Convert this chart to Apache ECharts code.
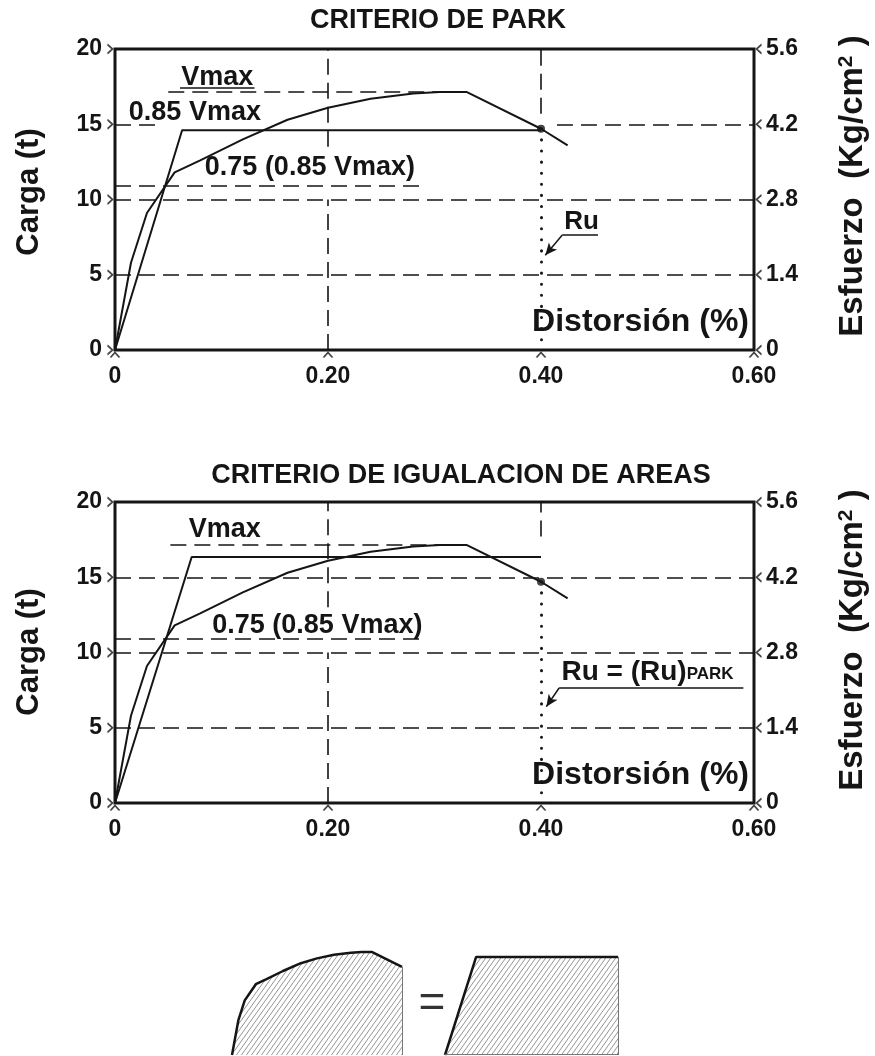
<!DOCTYPE html>
<html>
<head>
<meta charset="utf-8">
<script src="https://cdn.jsdelivr.net/npm/echarts@6/dist/echarts.min.js"></script>
<style>
html, body { margin: 0; padding: 0; background: #fff; }
#main { width: 875px; height: 1056px; }
</style>
</head>
<body>
<div id="main"></div>
<script>
// curva carga - distorsion
var strain = [0, 0.015, 0.03, 0.056, 0.08, 0.12, 0.162, 0.20, 0.24, 0.28, 0.305, 0.33, 0.40, 0.425];
var load   = [0, 5.8, 9.1, 11.8, 12.6, 14.0, 15.3, 16.1, 16.7, 17.05, 17.15, 17.15, 14.7, 13.6];

// idealizaciones bilineales
var parkStrain  = [0, 0.063, 0.40];
var parkLoad    = [0, 14.6, 14.6];
var areasStrain = [0, 0.072, 0.40];
var areasLoad   = [0, 16.35, 16.35];

var vmax = 17.15;
var reducedLoad = 10.9;   // 0.75 (0.85 Vmax)
var ruStrain = 0.40;
var ruLoad = 14.7;

var strainTicks = [0, 0.20, 0.40, 0.60];
var loadTicks   = [0, 5, 10, 15, 20];
var stressTicks = [0, 1.4, 2.8, 4.2, 5.6];

var FONT = "'Liberation Sans', Arial, sans-serif";
var INK = '#151515';
var TICK_SIZE = 23;
var NOTE_SIZE = 27;

function pairs(xs, ys) {
    var out = [];
    for (var i = 0; i < xs.length; i++) out.push([xs[i], ys[i]]);
    return out;
}
function seg(x1, y1, x2, y2) {
    return [{ coord: [x1, y1] }, { coord: [x2, y2] }];
}
function plainSeg(x1, y1, x2, y2) {
    return [{ coord: [x1, y1], symbol: 'none' }, { coord: [x2, y2], symbol: 'none' }];
}
function note(x, y, text, size) {
    return { coord: [x, y], value: 0, label: { formatter: text, fontSize: size || NOTE_SIZE } };
}

// rayado para el esquema de areas
var hatch = document.createElement('canvas');
hatch.width = 5; hatch.height = 7;
var hc = hatch.getContext('2d');
hc.strokeStyle = '#7a7a7a';
hc.lineWidth = 0.8;
hc.beginPath();
hc.moveTo(-5, 7); hc.lineTo(0, 0);
hc.moveTo(0, 7); hc.lineTo(5, 0);
hc.moveTo(5, 7); hc.lineTo(10, 0);
hc.stroke();

var dashed = { color: INK, width: 1.6, type: [16, 8] };
var dotted = { color: INK, width: 3, type: [0.1, 11], cap: 'round' };

function gridsFor(top) {
    return { left: 115, right: 121, top: top, height: 301, show: true, borderColor: INK, borderWidth: 3 };
}
function xAxisFor(gi) {
    return {
        type: 'value', gridIndex: gi, min: 0, max: 0.6, interval: 0.2,
        axisLine: { show: false }, axisTick: { show: false }, splitLine: { show: false },
        axisLabel: {
            margin: 15, fontSize: TICK_SIZE, fontWeight: 'bold', fontFamily: FONT, color: INK,
            formatter: function (v) { return v === 0 ? '0' : v.toFixed(2); }
        }
    };
}
function loadAxisFor(gi) {
    return {
        type: 'value', gridIndex: gi, min: 0, max: 20, interval: 5, position: 'left',
        axisLine: { show: false }, axisTick: { show: false }, splitLine: { show: false },
        axisLabel: { margin: 13, fontSize: TICK_SIZE, fontWeight: 'bold', fontFamily: FONT, color: INK }
    };
}
function stressAxisFor(gi) {
    return {
        type: 'value', gridIndex: gi, min: 0, max: 5.6, interval: 1.4, position: 'right',
        axisLine: { show: false }, axisTick: { show: false }, splitLine: { show: false },
        axisLabel: {
            margin: 12, fontSize: TICK_SIZE, fontWeight: 'bold', fontFamily: FONT, color: INK,
            formatter: function (v) { return v === 0 ? '0' : v.toFixed(1); }
        }
    };
}

// pequenas marcas en angulo sobre los ejes
function tickMarks(xi, yi, yri) {
    var chevL = 'path://M0,0 L6,5 L0,10';
    var chevU = 'path://M0,6 L5,0 L10,6';
    var chevR = 'path://M6,0 L0,5 L6,10';
    var base = { type: 'scatter', clip: false, silent: true, z: 5,
        itemStyle: { color: 'none', borderColor: INK, borderWidth: 1.5 } };
    return [
        Object.assign({}, base, { xAxisIndex: xi, yAxisIndex: yi, symbol: chevL, symbolSize: [5, 9], symbolOffset: [-5, 0],
            data: loadTicks.map(function (v) { return [0, v]; }) }),
        Object.assign({}, base, { xAxisIndex: xi, yAxisIndex: yi, symbol: chevU, symbolSize: [9, 5], symbolOffset: [0, 5],
            data: strainTicks.map(function (v) { return [v, 0]; }) }),
        Object.assign({}, base, { xAxisIndex: xi, yAxisIndex: yri, symbol: chevR, symbolSize: [5, 9], symbolOffset: [5, 0],
            data: stressTicks.map(function (v) { return [0.6, v]; }) })
    ];
}

function panelSeries(xi, yi, yri, bilStrain, bilLoad, guides, notes, leader) {
    var list = [
        { type: 'line', xAxisIndex: xi, yAxisIndex: yi, data: pairs(strain, load), symbol: 'none', z: 4,
          lineStyle: { color: INK, width: 2 } },
        { type: 'line', xAxisIndex: xi, yAxisIndex: yi, data: pairs(bilStrain, bilLoad), symbol: 'none', z: 4,
          lineStyle: { color: INK, width: 2 } },
        { type: 'scatter', xAxisIndex: xi, yAxisIndex: yi, data: [[ruStrain, ruLoad]], symbolSize: 8, z: 6,
          itemStyle: { color: INK } },
        // lineas de referencia
        { type: 'line', xAxisIndex: xi, yAxisIndex: yi, data: [], silent: true,
          markLine: { silent: true, symbol: 'none', label: { show: false }, lineStyle: dashed, animation: false,
              data: guides } },
        { type: 'line', xAxisIndex: xi, yAxisIndex: yi, data: [], silent: true,
          markLine: { silent: true, symbol: 'none', label: { show: false }, lineStyle: dotted, animation: false,
              data: [seg(ruStrain, ruLoad, ruStrain, 0)] } },
        { type: 'line', xAxisIndex: xi, yAxisIndex: yi, data: [], silent: true,
          markLine: { silent: true, symbol: ['none', 'arrow'], symbolSize: [8, 12], label: { show: false },
              lineStyle: { color: INK, width: 1.5, type: 'solid' }, animation: false, data: leader } },
        { type: 'line', xAxisIndex: xi, yAxisIndex: yi, data: [], silent: true,
          markPoint: { silent: true, symbol: 'circle', symbolSize: 0, animation: false,
              label: { show: true, position: 'inside', color: INK, fontWeight: 'bold', fontFamily: FONT,
                  rich: { big: { fontSize: 28, fontWeight: 'bold', fontFamily: FONT, color: INK },
                          sc: { fontSize: 17, fontWeight: 'bold', fontFamily: FONT, color: INK, padding: [5, 0, 0, 0] } } },
              data: notes } }
    ];
    return list.concat(tickMarks(xi, yi, yri));
}

var parkGuides = [
    seg(0, 5, 0.6, 5), seg(0, 10, 0.6, 10),
    seg(0, 15, 0.045, 15), seg(0.415, 15, 0.6, 15),
    seg(0, reducedLoad, 0.293, reducedLoad),
    seg(0.05, vmax, 0.31, vmax),
    seg(0.2, 0, 0.2, 10), seg(0.2, 13.5, 0.2, 20),
    seg(0.4, 15.7, 0.4, 20)
];
// subrayado de Vmax
parkGuides.push([{ coord: [0.061, 17.45], lineStyle: { type: 'solid', width: 1.6 } }, { coord: [0.131, 17.45] }]);
var parkNotes = [
    note(0.096, 18.1, 'Vmax'),
    note(0.075, 15.75, '0.85 Vmax'),
    note(0.183, 12.1, '0.75 (0.85 Vmax)'),
    note(0.438, 8.5, 'Ru', 26)
];
var parkLeader = [
    plainSeg(0.42, 7.64, 0.4535, 7.64),
    seg(0.42, 7.64, 0.404, 6.3)
];

var areasGuides = [
    seg(0, 5, 0.6, 5), seg(0, 10, 0.6, 10), seg(0, 15, 0.6, 15),
    seg(0, reducedLoad, 0.288, reducedLoad),
    seg(0.052, vmax, 0.31, vmax),
    seg(0.2, 0, 0.2, 10), seg(0.2, 13, 0.2, 20),
    seg(0.4, 17.7, 0.4, 20)
];
var areasNotes = [
    note(0.103, 18.2, 'Vmax'),
    note(0.19, 11.8, '0.75 (0.85 Vmax)'),
    note(0.5, 8.7, '{big|Ru = (Ru)}{sc|PARK}')
];
var areasLeader = [
    plainSeg(0.417, 7.64, 0.59, 7.64),
    seg(0.417, 7.64, 0.405, 6.4)
];

// esquema inferior: areas iguales
var curveToRu = pairs(strain, load).filter(function (p) { return p[0] <= ruStrain; });
var hatchFill = { image: hatch, repeat: 'repeat' };

var schemeAxesX = [2, 3].map(function (gi) {
    return { type: 'value', gridIndex: gi, min: 0, max: 0.40, show: false };
});
var schemeAxesY = [2, 3].map(function (gi) {
    return { type: 'value', gridIndex: gi, min: 0, max: 20, show: false };
});

var schemeSeries = [
    { type: 'line', xAxisIndex: 2, yAxisIndex: 4, data: curveToRu, symbol: 'none', silent: true,
      lineStyle: { color: INK, width: 2.5 }, areaStyle: { color: hatchFill, opacity: 1 },
      markLine: { silent: true, symbol: 'none', label: { show: false }, animation: false,
          lineStyle: { color: '#777', width: 1, type: 'solid' },
          data: [seg(ruStrain, 0, ruStrain, ruLoad)] } },
    { type: 'line', xAxisIndex: 3, yAxisIndex: 5, data: pairs(areasStrain, areasLoad), symbol: 'none', silent: true,
      lineStyle: { color: INK, width: 2.5 }, areaStyle: { color: hatchFill, opacity: 1 },
      markLine: { silent: true, symbol: 'none', label: { show: false }, animation: false,
          lineStyle: { color: '#777', width: 1, type: 'solid' },
          data: [seg(0.40, 0, 0.40, 16.35), seg(0, 0.05, 0.40, 0.05)] } }
];

function label(x, y, text, size, rot, align, rich) {
    return { type: 'text', x: x, y: y, rotation: rot || 0, silent: true,
        style: { text: text, fontSize: size, fontWeight: 'bold', fontFamily: FONT, fill: INK,
            align: align || 'center', verticalAlign: 'middle', rich: rich } };
}
var supRich = {
    sup: { fontSize: 21, fontWeight: 'bold', fontFamily: FONT, fill: INK, verticalAlign: 'top', padding: [0, 0, 14, 0] }
};

var chart = echarts.init(document.getElementById('main'), null, { renderer: 'canvas' });
var option = {
    animation: false,
    backgroundColor: '#fff',
    grid: [
        gridsFor(49),
        gridsFor(502),
        { left: 232, width: 170, top: 935, height: 120, show: false },
        { left: 445, width: 173, top: 935, height: 120, show: false }
    ],
    xAxis: [xAxisFor(0), xAxisFor(1)].concat(schemeAxesX),
    yAxis: [loadAxisFor(0), stressAxisFor(0), loadAxisFor(1), stressAxisFor(1)].concat(schemeAxesY),
    graphic: [
        label(438, 21, 'CRITERIO DE PARK', 27),
        label(461, 476, 'CRITERIO DE IGUALACION DE AREAS', 27),
        label(749, 322, 'Distorsión (%)', 32, 0, 'right'),
        label(749, 775, 'Distorsión (%)', 32, 0, 'right'),
        label(29, 192, 'Carga (t)', 31, Math.PI / 2),
        label(29, 652, 'Carga (t)', 31, Math.PI / 2),
        label(853, 186, 'Esfuerzo  (Kg/cm{sup|2} )', 33, Math.PI / 2, 'center', supRich),
        label(853, 640, 'Esfuerzo  (Kg/cm{sup|2} )', 33, Math.PI / 2, 'center', supRich),
        { type: 'text', x: 432, y: 1004, silent: true,
          style: { text: '=', fontSize: 46, fontFamily: FONT, fill: '#333', align: 'center', verticalAlign: 'middle' } }
    ],
    series: []
        .concat(panelSeries(0, 0, 1, parkStrain, parkLoad, parkGuides, parkNotes, parkLeader))
        .concat(panelSeries(1, 2, 3, areasStrain, areasLoad, areasGuides, areasNotes, areasLeader))
        .concat(schemeSeries)
};
chart.setOption(option);
</script>
</body>
</html>
